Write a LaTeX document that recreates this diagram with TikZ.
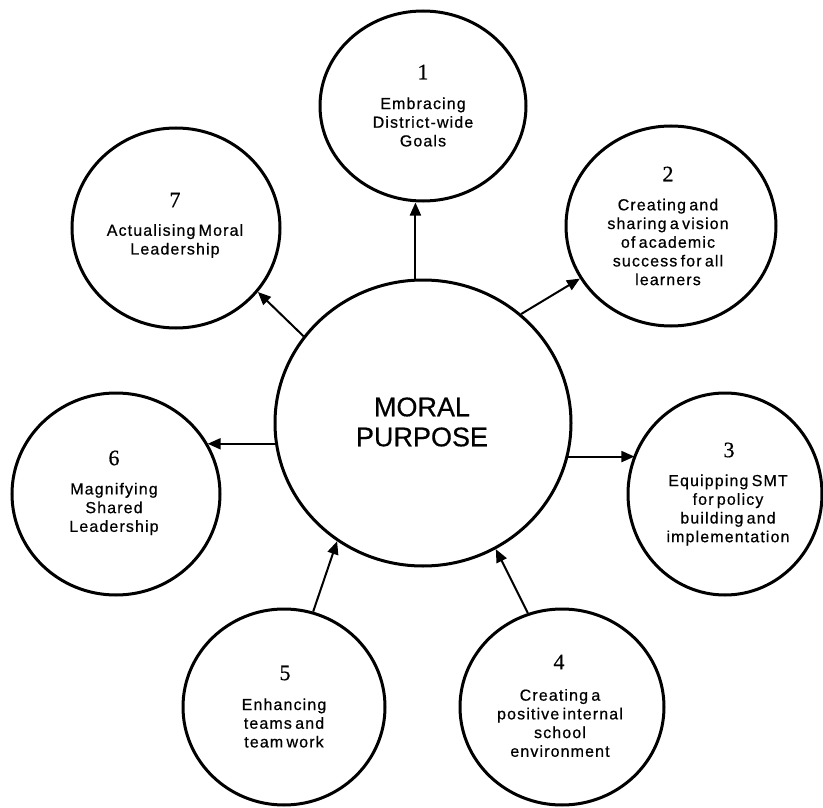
\documentclass[tikz,border=0pt]{standalone}
\usepackage{fontspec}
\setmainfont{Liberation Sans}
\newfontfamily\lab[LetterSpace=7,WordSpace=0.6,FakeBold=0.6]{Liberation Sans}
\newfontfamily\ctrf[FakeBold=0.5]{Liberation Sans}
\newfontfamily\numf[FakeBold=0.6]{Liberation Serif}
\usetikzlibrary{shapes.geometric,arrows.meta}
\begin{document}
\begin{tikzpicture}[x=1pt,y=-1pt,
  bub/.style={draw, ellipse, line width=3pt, inner sep=0pt},
  arr/.style={line width=2pt, -{Triangle[length=13pt,width=11pt]}},
  num/.style={font=\numf\fontsize{22}{22}\selectfont, inner sep=0pt},
  txt/.style={align=center, font=\lab\fontsize{16}{18.7}\selectfont, inner sep=0pt},
  ctr/.style={align=center, font=\ctrf\fontsize{27}{30}\selectfont, inner sep=0pt}
]
\useasboundingbox (0,0) rectangle (823,808);
% circles
\node[bub, minimum width=296pt, minimum height=286pt] (C) at (423,423) {};
\node[bub, minimum width=206pt, minimum height=190pt] (N1) at (423,106) {};
\node[bub, minimum width=210pt, minimum height=200pt] (N2) at (671,226) {};
\node[bub, minimum width=194pt, minimum height=202pt] (N3) at (725,494) {};
\node[bub, minimum width=204pt, minimum height=196pt] (N4) at (562,707) {};
\node[bub, minimum width=202pt, minimum height=196pt] (N5) at (284,707) {};
\node[bub, minimum width=208pt, minimum height=202pt] (N6) at (116,494) {};
\node[bub, minimum width=208pt, minimum height=200pt] (N7) at (176,228) {};
% texts
\node[ctr] (mp) at (422,422) {MORAL\\PURPOSE};
\node[num] (d1) at (423,72) {1};
\node[txt] (t1) at (423,122) {Embracing\\District-wide\\Goals};
\node[num] (d2) at (668,174) {2};
\node[txt] (t2) at (668,242) {Creating and\\sharing a vision\\of academic\\success for all\\learners};
\node[num] (d3) at (729,450) {3};
\node[txt] (t3) at (728,510) {Equipping SMT\\for policy\\building and\\implementation};
\node[num] (d4) at (559,662) {4};
\node[txt] (t4) at (560,723) {Creating a\\positive internal\\school\\environment};
\node[num] (d5) at (285,673) {5};
\node[txt] (t5) at (284,723) {Enhancing\\teams and\\team work};
\node[num] (d6) at (114,458) {6};
\node[txt] (t6) at (114,509) {Magnifying\\Shared\\Leadership};
\node[num] (d7) at (175,200) {7};
\node[txt] (t7) at (175,241) {Actualising Moral\\Leadership};
% arrows
\draw[arr] (C.93) -- (C.93 |- N1.south);
\draw[arr] (C.48) -- (N2.210);
\draw[arr] (C.347.5) -- (N3.156.5 |- C.347.5);
\draw[arr] (N4.110) -- (C.300);
\draw[arr] (N5.73) -- (C.234.5);
\draw[arr] (C.188) -- (N6.29 |- C.188);
\draw[arr] (C.144.6) -- (N7.322);
\end{tikzpicture}
\end{document}
